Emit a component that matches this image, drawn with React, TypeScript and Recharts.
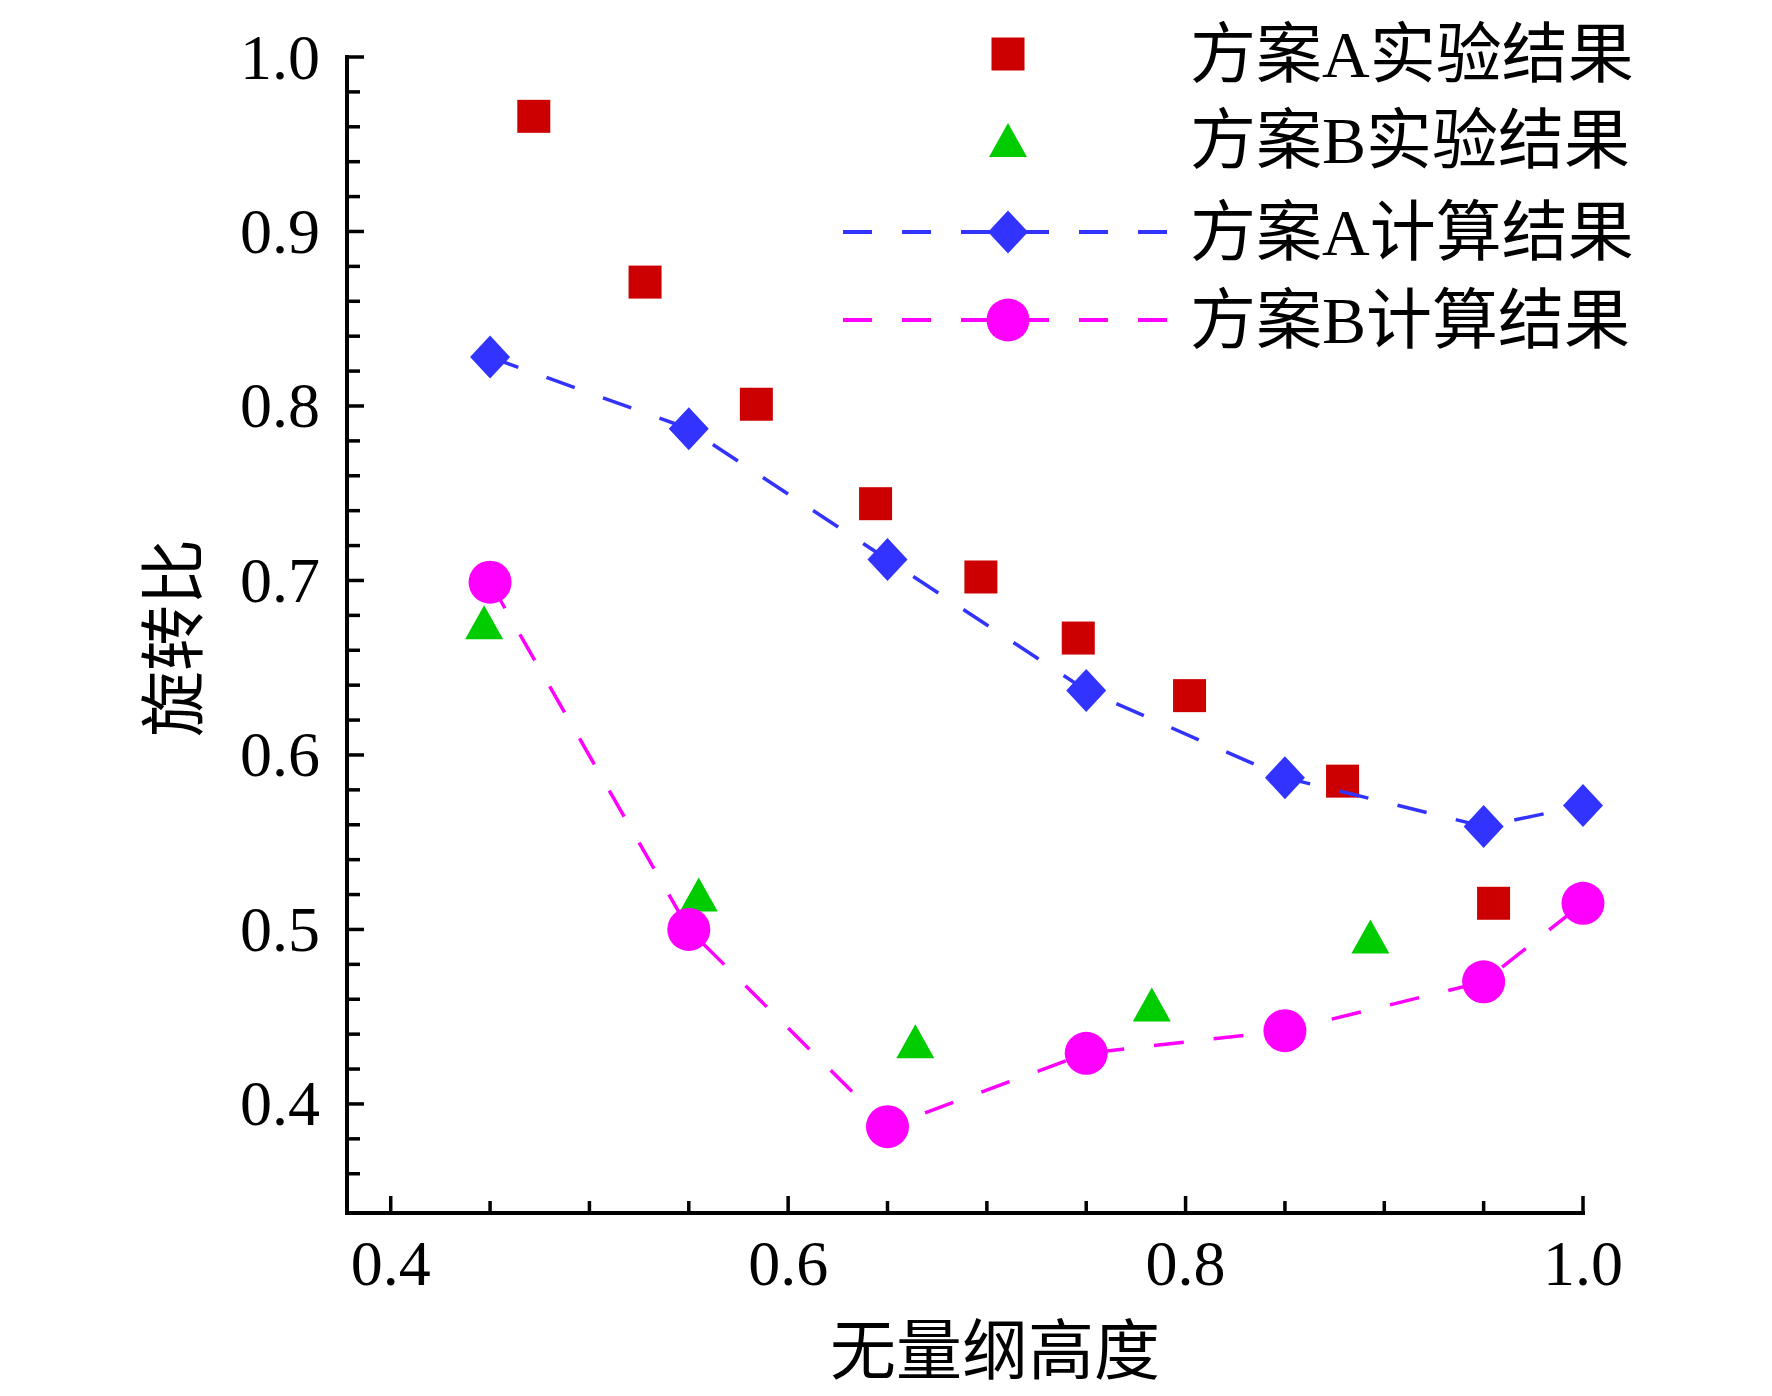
import React from "react";
import { ScatterChart, Scatter, XAxis, YAxis } from "recharts";

// experiment A (red squares)
const expAx = [0.472, 0.528, 0.584, 0.644, 0.697, 0.746, 0.802, 0.879, 0.955];
const expAy = [0.966, 0.871, 0.801, 0.744, 0.702, 0.667, 0.634, 0.585, 0.515];

// experiment B (green triangles)
const expBx = [0.447, 0.555, 0.664, 0.783, 0.893];
const expBy = [0.676, 0.52, 0.436, 0.457, 0.496];

// calculations share the same heights
const calcX = [0.45, 0.55, 0.65, 0.75, 0.85, 0.95, 1.0];
const calcAy = [0.828, 0.787, 0.712, 0.637, 0.587, 0.559, 0.571];
const calcBy = [0.699, 0.5, 0.387, 0.429, 0.442, 0.47, 0.515];

const xTicks = [0.4, 0.45, 0.5, 0.55, 0.6, 0.65, 0.7, 0.75, 0.8, 0.85, 0.9, 0.95, 1.0];
const yTicks = [
  0.36, 0.38, 0.4, 0.42, 0.44, 0.46, 0.48, 0.5, 0.52, 0.54, 0.56, 0.58, 0.6,
  0.62, 0.64, 0.66, 0.68, 0.7, 0.72, 0.74, 0.76, 0.78, 0.8, 0.82, 0.84, 0.86,
  0.88, 0.9, 0.92, 0.94, 0.96, 0.98, 1.0,
];

const legendLabels = ["方案A实验结果", "方案B实验结果", "方案A计算结果", "方案B计算结果"];
const xTitle = "无量纲高度";
const yTitle = "旋转比";

const RED = "#cc0000";
const GREEN = "#00cc00";
const BLUE = "#3333ff";
const MAGENTA = "#ff00ff";

const NUM_FONT = "'Liberation Serif', 'Times New Roman', serif";
const CJK_FONT = "'Liberation Serif', 'Noto Sans CJK SC', sans-serif";

const toPoints = (xs: number[], ys: number[]) => xs.map((x, i) => ({ x, y: ys[i] }));

const Square = ({ cx, cy }: any) => (
  <rect x={cx - 16.5} y={cy - 16.5} width={33} height={33} fill={RED} />
);
const Triangle = ({ cx, cy }: any) => (
  <polygon points={`${cx},${cy - 17} ${cx + 19},${cy + 17} ${cx - 19},${cy + 17}`} fill={GREEN} />
);
const Diamond = ({ cx, cy }: any) => (
  <polygon points={`${cx},${cy - 21.5} ${cx + 20},${cy} ${cx},${cy + 21.5} ${cx - 20},${cy}`} fill={BLUE} />
);
const Dot = ({ cx, cy }: any) => <circle cx={cx} cy={cy} r={21.5} fill={MAGENTA} />;

const isMajorY = (v: number) => Math.abs(v * 10 - Math.round(v * 10)) < 1e-6;
const isMajorX = (v: number) => Math.abs(v * 5 - Math.round(v * 5)) < 1e-6;

const XTick = ({ x, y, payload }: any) => {
  const v = payload.value;
  const major = isMajorX(v);
  return (
    <g>
      <line x1={x} x2={x} y1={y} y2={y - (major ? 17 : 12)} stroke="#000" strokeWidth={3.5} />
      {major && (
        <text x={x} y={y + 50} textAnchor="middle" dominantBaseline="central" fontSize={64} fontFamily={NUM_FONT} fill="#000">
          {v.toFixed(1)}
        </text>
      )}
    </g>
  );
};

const YTick = ({ x, y, payload }: any) => {
  const v = payload.value;
  const major = isMajorY(v);
  return (
    <g>
      <line x1={x} x2={x + (major ? 17 : 13)} y1={y} y2={y} stroke="#000" strokeWidth={3.5} />
      {major && (
        <text x={x - 27} y={y} textAnchor="end" dominantBaseline="central" fontSize={64} fontFamily={NUM_FONT} fill="#000">
          {v.toFixed(1)}
        </text>
      )}
    </g>
  );
};

const legendRows = [54, 140, 232, 320];
const LegendBlock = () => (
  <g>
    {legendLabels.map((label, i) => {
      const y = legendRows[i];
      const mx = 1008;
      return (
        <g key={label}>
          {i === 2 && <line x1={843} x2={1167} y1={y} y2={y} stroke={BLUE} strokeWidth={4} strokeDasharray="29 30" />}
          {i === 3 && <line x1={843} x2={1167} y1={y} y2={y} stroke={MAGENTA} strokeWidth={4} strokeDasharray="29 30" />}
          {i === 0 && <Square cx={mx} cy={y} />}
          {i === 1 && <Triangle cx={mx} cy={y} />}
          {i === 2 && <Diamond cx={mx} cy={y} />}
          {i === 3 && <Dot cx={mx} cy={y} />}
          <text x={1190} y={y} dominantBaseline="central" fontSize={66} fontFamily={CJK_FONT} fill="#000">
            {label}
          </text>
        </g>
      );
    })}
  </g>
);

export default function App() {
  return (
    <div style={{ position: "absolute", left: 0, top: 0, width: 1772, height: 1396, background: "#fff" }}>
      <ScatterChart width={1772} height={1396} margin={{ top: 57, right: 189, bottom: 123, left: 287 }}>
        <XAxis
          type="number"
          dataKey="x"
          domain={[0.378, 1.0]}
          ticks={xTicks}
          interval={0}
          height={60}
          tickSize={0}
          tickMargin={0}
          tick={(p: any) => <XTick {...p} />}
          axisLine={{ stroke: "#000", strokeWidth: 4, strokeLinecap: "square" }}
        />
        <YAxis
          type="number"
          dataKey="y"
          domain={[0.3375, 1.0]}
          ticks={yTicks}
          interval={0}
          width={60}
          tickSize={0}
          tickMargin={0}
          tick={(p: any) => <YTick {...p} />}
          axisLine={{ stroke: "#000", strokeWidth: 4, strokeLinecap: "square" }}
        />
        <Scatter name={legendLabels[0]} data={toPoints(expAx, expAy)} fill={RED} shape={Square} isAnimationActive={false} />
        <Scatter name={legendLabels[1]} data={toPoints(expBx, expBy)} fill={GREEN} shape={Triangle} isAnimationActive={false} />
        <Scatter
          name={legendLabels[2]}
          data={toPoints(calcX, calcAy)}
          fill={BLUE}
          shape={Diamond}
          line={{ stroke: BLUE, strokeWidth: 3.5, strokeDasharray: "30 30" }}
          isAnimationActive={false}
        />
        <Scatter
          name={legendLabels[3]}
          data={toPoints(calcX, calcBy)}
          fill={MAGENTA}
          shape={Dot}
          line={{ stroke: MAGENTA, strokeWidth: 3.5, strokeDasharray: "30 30" }}
          isAnimationActive={false}
        />
        <LegendBlock />
        <text x={995} y={1351} textAnchor="middle" dominantBaseline="central" fontSize={66} fontFamily={CJK_FONT} fill="#000">
          {xTitle}
        </text>
        <text
          x={174}
          y={638}
          transform="rotate(-90 174 638)"
          textAnchor="middle"
          dominantBaseline="central"
          fontSize={66}
          fontFamily={CJK_FONT}
          fill="#000"
        >
          {yTitle}
        </text>
      </ScatterChart>
    </div>
  );
}
